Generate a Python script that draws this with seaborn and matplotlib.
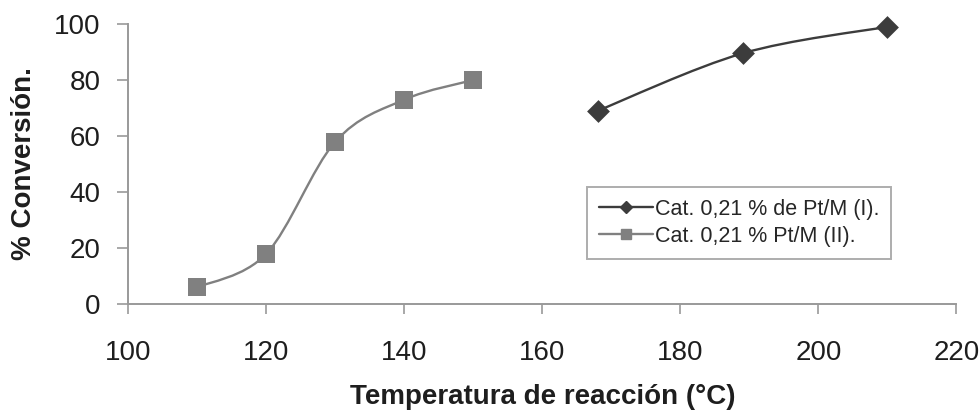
import numpy as np
import matplotlib
matplotlib.use("Agg")
import matplotlib.pyplot as plt
from matplotlib.path import Path
from matplotlib.patches import PathPatch
from matplotlib.lines import Line2D
import seaborn as sns

# data
temp_i = [168, 189, 210]
conv_i = [69, 89.5, 99]
label_i = "Cat. 0,21 % de Pt/M (I)."

temp_ii = [110, 120, 130, 140, 150]
conv_ii = [6, 18, 58, 73, 80]
label_ii = "Cat. 0,21 % Pt/M (II)."

x_ticks = [100, 120, 140, 160, 180, 200, 220]
y_ticks = [0, 20, 40, 60, 80, 100]


def smooth_path(xs, ys):
    # Excel-style smoothed line as cubic bezier segments
    pts = np.column_stack([xs, ys]).astype(float)
    ext = np.vstack([pts[0], pts, pts[-1]])
    verts = [pts[0]]
    codes = [Path.MOVETO]
    for i in range(len(pts) - 1):
        p0, p1, p2, p3 = ext[i], ext[i + 1], ext[i + 2], ext[i + 3]
        c1 = p1 + (p2 - p0) / 6.0
        c2 = p2 - (p3 - p1) / 6.0
        verts += [c1, c2, p2]
        codes += [Path.CURVE4] * 3
    return Path(verts, codes)


sns.set_style("ticks")
plt.rcParams["font.family"] = ["Liberation Sans", "DejaVu Sans"]

fig = plt.figure(figsize=(9.8, 4.2), dpi=100)
ax = fig.add_axes([0.131, 0.276, 0.845, 0.667])

col_i = "#3c3c3c"
col_ii = "#808080"
text_col = "#1e1e1e"

ax.add_patch(PathPatch(smooth_path(temp_ii, conv_ii), fill=False,
                       edgecolor=col_ii, lw=1.7, zorder=2))
ax.add_patch(PathPatch(smooth_path(temp_i, conv_i), fill=False,
                       edgecolor=col_i, lw=1.7, zorder=2))

sns.scatterplot(x=temp_ii, y=conv_ii, ax=ax, marker="s", s=155,
                color=col_ii, edgecolor=col_ii, linewidth=0, zorder=3,
                clip_on=False)
sns.scatterplot(x=temp_i, y=conv_i, ax=ax, marker="D", s=135,
                color=col_i, edgecolor=col_i, linewidth=0, zorder=3,
                clip_on=False)

ax.set_xlim(100, 220)
ax.set_ylim(0, 100)
ax.set_xticks(x_ticks)
ax.set_yticks(y_ticks)
ax.tick_params(axis="both", labelsize=20, colors=text_col)
ax.tick_params(axis="x", length=7, pad=19, color="#999999", width=1.2)
ax.tick_params(axis="y", length=8, pad=12, color="#999999", width=1.2)
for side in ["left", "bottom"]:
    ax.spines[side].set_color("#999999")
    ax.spines[side].set_linewidth(1.4)
sns.despine(ax=ax)

ax.set_xlabel("Temperatura de reacción (°C)", fontsize=20, fontweight="bold",
              labelpad=13, color=text_col)
ax.set_ylabel("% Conversión.", fontsize=20, fontweight="bold",
              labelpad=12, color=text_col)

handles = [
    Line2D([], [], color=col_i, lw=1.7, marker="D", markersize=6),
    Line2D([], [], color=col_ii, lw=1.7, marker="s", markersize=7.5),
]
leg = ax.legend(handles, [label_i, label_ii], loc="upper left",
                bbox_to_anchor=(0.554, 0.418), fontsize=15.5, frameon=True,
                fancybox=False, edgecolor="#999999", handlelength=2.5,
                handletextpad=0.1, borderpad=0.55, labelspacing=0.28,
                borderaxespad=0)
leg.get_frame().set_linewidth(1.4)

fig.savefig("out.png", dpi=100)
